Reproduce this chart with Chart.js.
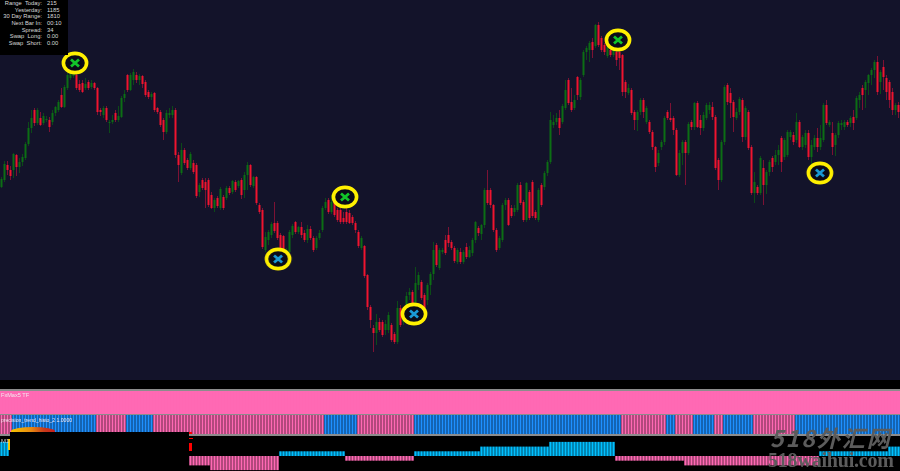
<!DOCTYPE html>
<html>
<head>
<meta charset="utf-8">
<script src="https://cdn.jsdelivr.net/npm/chart.js@4/dist/chart.umd.min.js"></script>
<style>
    html, body { margin: 0; padding: 0; background: #000; }
    #page { position: relative; width: 900px; height: 471px; overflow: hidden; background: #000; font-family: "Liberation Sans", sans-serif; }
    #page canvas { position: absolute; left: 0; display: block; }
    .rule { position: absolute; left: 0; width: 900px; background: #8c8c8c; }
    .label { position: absolute; left: 1px; color: #f4e6ee; white-space: nowrap; }
    #info { position: absolute; left: 0; top: 0; width: 68px; height: 55px; background: #000; color: #d8d8d8; font-size: 5.8px; line-height: 6.7px; padding-top: 0; }
    #info div { position: relative; height: 6.7px; }
    #info span { position: absolute; white-space: pre; }
    #info .k { right: 26px; }
    #info .v { left: 47px; }
    #mask { position: absolute; left: 10px; top: 432px; width: 179px; height: 39px; background: #000; }
    #smear { position: absolute; left: 11px; top: 427px; width: 44px; height: 5px; border-radius: 60% 60% 0 0 / 100% 100% 0 0; background: linear-gradient(90deg, #f5c400, #e88a10 45%, #c83a1a 75%, #c81e1e); }
    .tick { position: absolute; background: #f00; }
    #mark1 { position: absolute; left: 1px; top: 438px; color: #ccc; font-size: 6px; }
    #wm1 { position: absolute; left: 770px; top: 421px; color: #5c5c5c; font-family: "Noto Sans CJK SC", sans-serif; font-style: italic; font-weight: 700; font-size: 23px; line-height: 32px; letter-spacing: 2px; white-space: nowrap; }
    #wm2 { position: absolute; left: 768px; top: 449px; color: #5c5c5c; font-family: "Liberation Serif", serif; font-weight: 700; font-size: 20px; line-height: 23px; letter-spacing: -0.2px; white-space: nowrap; }
</style>
</head>
<body>
<div id="page">
    <canvas id="priceChart" width="900" height="380" style="top:0"></canvas>
    <canvas id="fxMaxChart" width="900" height="23" style="top:391px"></canvas>
    <canvas id="trendChart" width="900" height="19" style="top:415px"></canvas>
    <canvas id="histoChart" width="900" height="35" style="top:436px"></canvas>
    <div class="rule" style="top:389px;height:2px"></div>
    <div class="rule" style="top:414px;height:1px"></div>
    <div class="rule" style="top:434px;height:2px"></div>
    <div class="label" style="top:392px;font-size:5.6px">FxMax5 TF</div>
    <div class="label" style="top:417px;font-size:5.1px">precision_trend_histo_2 1.0000</div>
    <div id="info"></div>
    <div id="smear"></div>
    <div id="mask"></div>
    <div class="tick" style="left:189px;top:432px;width:3px;height:2px"></div>
    <div class="tick" style="left:189px;top:438px;width:4px;height:1px"></div>
    <div class="tick" style="left:189px;top:443px;width:3px;height:8px"></div>
    <div class="tick" style="left:8px;top:439px;width:1.5px;height:11px;background:#f5c400"></div>
    <div id="mark1">M1</div>
    <div id="wm1">518外汇网</div>
    <div id="wm2">518waihui.com</div>
</div>
<script>
const opens = [
    193,200,215,210,210,225,213,218,222,236, 252,270,257,262,257,260,260,258,267,270,
    285,273,292,302,304,305,296,297,292,298, 293,297,292,270,265,272,257,258,267,260,
    263,282,305,290,300,305,300,304,298,288, 283,287,272,268,260,248,265,265,270,225,
    207,230,220,212,217,215,188,200,198,200, 185,172,182,172,183,182,192,188,198,194,
    200,190,205,215,194,203,175,170,130,140, 145,157,157,145,144,128,128,145,158,148,
    153,147,140,151,142,132,142,150,172,180, 168,178,170,170,162,168,167,163,157,148,
    132,134,105,73,52,47,58,58,50,50, 55,46,38,72,58,68,85,88,78,95,
    98,85,80,95,106,135,112,128,140,145, 138,132,118,128,118,133,123,127,140,152,
    146,155,190,190,175,150,132,140,175,180, 172,168,170,195,178,160,188,198,168,160,
    195,193,207,218,255,258,262,258,272,300, 278,272,303,283,305,328,330,338,334,355,
    342,335,324,330,325,328,328,325,298,287, 290,268,260,268,280,258,258,248,233,217,
    233,238,268,262,262,250,205,227,238,227, 258,253,277,260,252,262,270,273,263,220,
    200,238,295,287,278,262,268,280,243,268, 233,187,193,187,212,195,208,222,218,225,
    242,223,225,243,245,240,258,233,235,247, 223,233,242,233,240,275,255,247,235,245,
    255,253,258,257,263,262,280,292,290,297, 305,310,318,298,313,302,298,288,270,275,
];
const closes = [
    201,216,210,204,226,213,218,223,236,252, 262,257,270,255,264,261,253,267,273,278,
    273,293,305,306,306,292,290,288,296,292, 297,292,268,268,272,260,258,260,260,264,
    282,286,290,305,308,300,304,296,285,283, 286,270,268,255,248,267,267,270,225,215,
    230,217,212,226,208,184,195,192,190,175, 172,180,174,191,172,192,187,199,190,199,
    185,205,215,195,203,177,168,133,143,148, 156,149,142,132,128,130,148,154,148,153,
    145,140,151,142,130,142,147,172,178,168, 178,165,160,158,158,158,157,157,150,134,
    142,104,73,60,47,58,50,45,56,65, 40,38,72,55,68,84,88,77,97,105,
    82,72,95,106,130,115,130,130,127,137, 132,119,130,118,128,123,130,140,158,147,
    155,190,177,175,150,130,142,175,180,155, 164,172,195,177,160,197,162,164,162,190,
    175,207,218,260,258,262,252,274,290,277, 270,280,285,300,328,332,337,330,355,335,
    330,328,333,325,332,320,322,288,288,292, 267,260,268,280,268,272,248,233,213,227,
    238,262,262,260,250,205,227,238,227,256, 253,277,253,252,265,275,275,263,212,200,
    238,293,278,277,263,268,281,243,272,232, 187,198,187,222,195,208,218,213,225,230,
    218,240,248,248,238,258,233,243,247,223, 235,242,233,242,275,257,258,233,245,257,
    257,258,255,262,257,282,285,285,298,305, 310,318,288,308,303,288,280,270,275,268,
];
const highs = [
    203,219,219,214,227,226,222,226,238,258, 270,272,272,268,267,264,263,270,274,280,
    292,295,307,308,308,308,300,300,302,300, 300,298,293,272,274,274,260,265,270,274,
    284,290,306,307,311,308,306,305,300,290, 288,288,273,270,262,270,272,274,272,228,
    237,232,222,228,220,217,197,202,202,202, 188,182,184,193,185,194,194,200,200,200,
    202,208,218,216,204,204,177,172,148,150, 158,178,159,147,145,132,150,156,159,154,
    158,150,155,154,144,144,150,174,182,182, 185,180,172,172,168,172,170,165,159,150,
    144,135,106,75,55,66,62,60,60,68, 57,48,79,75,70,88,92,90,113,108,
    100,87,97,108,138,137,132,132,145,153, 140,134,132,132,130,137,134,142,159,154,
    156,192,210,192,176,152,144,177,182,182, 175,175,197,198,180,198,190,200,170,192,
    197,209,220,268,265,267,270,276,300,302, 292,285,304,302,330,334,339,342,356,358,
    344,337,335,332,334,330,332,326,300,296, 292,270,270,282,282,274,260,250,234,230,
    240,264,270,277,264,252,230,240,240,258, 260,278,279,265,268,277,278,278,265,222,
    240,295,297,292,280,272,283,282,274,270, 235,208,195,224,220,210,220,224,230,235,
    244,242,250,250,248,267,260,245,250,250, 240,245,252,255,277,280,260,258,247,259,
    260,260,260,264,270,284,288,295,300,306, 312,320,324,310,320,305,300,292,277,278,
];
const lows = [
    192,198,205,200,202,204,207,214,220,234, 247,254,255,254,255,258,248,255,264,268,
    272,272,290,300,302,290,288,287,290,290, 291,290,265,264,262,258,247,256,258,258,
    262,278,288,289,295,297,295,292,283,281, 280,268,266,253,240,246,262,262,222,198,
    205,215,210,210,206,182,183,190,172,173, 171,168,172,170,170,180,185,186,188,192,
    181,182,190,193,192,175,166,131,128,135, 142,147,140,130,125,127,127,142,146,146,
    142,138,137,140,128,130,140,148,170,166, 166,163,158,156,156,156,156,155,147,132,
    130,102,70,52,28,35,48,43,45,47, 38,36,36,53,55,65,80,75,76,90,
    80,70,75,85,100,113,110,126,125,133, 130,117,116,116,116,121,122,124,137,144,
    140,152,175,172,148,128,130,138,170,154, 162,164,168,175,158,158,160,162,160,158,
    173,190,204,216,252,255,245,256,270,275, 268,270,280,280,303,320,318,322,332,333,
    328,325,322,323,323,314,310,284,282,285, 265,250,249,265,262,256,246,230,208,214,
    230,235,260,258,245,204,203,215,195,225, 250,250,252,245,249,260,266,260,210,190,
    198,235,275,262,248,260,265,238,240,230, 185,177,185,185,175,186,204,208,215,215,
    208,220,223,240,235,237,232,230,232,220, 215,230,228,230,238,255,253,225,224,242,
    250,250,253,253,250,260,272,270,272,285, 295,302,285,286,290,280,272,265,265,262,
];

// signal circles, bar position and price
const sellBars = [24.5, 114.5, 205.5];
const sellPrices = [317, 183, 340];
const buyBars = [92.2, 137.5, 272.8];
const buyPrices = [121, 66, 207];

// trend panel: direction and how many bars it lasts
const trendDirections = [-1,1,-1,1,-1,1,-1,1,-1,1,-1,1,-1,1,-1,1];
const trendLengths = [4,28,10,9,57,11,19,69,15,3,6,7,3,10,14,35];

// lower histogram: level and how many bars it lasts, second run sits behind the black box
const histoLevels = [3,0,-2,-3,1,-1,1,2,3,-1,-2,1,2];
const histoLengths = [3,60,7,23,22,23,22,23,22,23,45,23,4];

const infoLabels = ['Range  Today:', 'Yesterday:', '30 Day Range:', 'Next Bar In:', 'Spread:', 'Swap  Long:', 'Swap  Short:'];
const infoValues = ['215', '1185', '1810', '00:10', '34', '0.00', '0.00'];

function expandRuns(values, lengths) {
    const out = [];
    values.forEach((value, i) => {
        for (let n = 0; n < lengths[i]; n++) {
            out.push(value);
        }
    });
    return out;
}

const barLabels = opens.map((_, i) => i);

function hiddenScales(yMin, yMax) {
    return {
        x: { type: 'category', offset: true, display: false, grid: { display: false } },
        y: { type: 'linear', min: yMin, max: yMax, display: false, grid: { display: false } },
    };
}

function baseOptions(yMin, yMax) {
    return {
        responsive: false,
        animation: false,
        events: [],
        layout: { padding: 0, autoPadding: false },
        plugins: { legend: { display: false }, tooltip: { enabled: false } },
        scales: hiddenScales(yMin, yMax),
    };
}

function signalMarker(color) {
    const c = document.createElement('canvas');
    c.width = 30;
    c.height = 26;
    const ctx = c.getContext('2d');
    ctx.beginPath();
    ctx.ellipse(15, 13, 11.6, 9.6, 0, 0, Math.PI * 2);
    ctx.fillStyle = '#0b0b18';
    ctx.fill();
    ctx.lineWidth = 3.6;
    ctx.strokeStyle = '#fff000';
    ctx.stroke();
    ctx.strokeStyle = color;
    ctx.lineWidth = 2.8;
    ctx.beginPath();
    ctx.moveTo(11, 9.5);
    ctx.lineTo(19, 16.5);
    ctx.moveTo(19, 9.5);
    ctx.lineTo(11, 16.5);
    ctx.stroke();
    return c;
}

function signalDataset(bars, prices, color) {
    return {
        type: 'scatter',
        xAxisID: 'xSignal',
        data: bars.map((bar, i) => ({ x: bar, y: prices[i] })),
        pointStyle: signalMarker(color),
        pointRadius: 14,
        order: 0,
    };
}

const priceOptions = baseOptions(0, 380);
priceOptions.scales.xSignal = { type: 'linear', min: -0.5, max: 299.5, display: false };

new Chart(document.getElementById('priceChart'), {
    data: {
        labels: barLabels,
        datasets: [
            {
                type: 'bar',
                data: lows.map((low, i) => [low, highs[i]]),
                backgroundColor: closes.map((close, i) => (close >= opens[i] ? '#0c4a18' : '#7c1234')),
                barThickness: 1,
                inflateAmount: 0,
                grouped: false,
                order: 2,
            },
            {
                type: 'bar',
                data: opens.map((open, i) => [open, closes[i]]),
                backgroundColor: closes.map((close, i) => (close >= opens[i] ? '#0c6e14' : '#f0142f')),
                barThickness: 2,
                inflateAmount: 0,
                grouped: false,
                order: 1,
            },
            signalDataset(sellBars, sellPrices, '#12c52a'),
            signalDataset(buyBars, buyPrices, '#1a9ad6'),
        ],
    },
    options: priceOptions,
    plugins: [{
        id: 'panelBackground',
        beforeDraw(chart) {
            chart.ctx.fillStyle = '#13132a';
            chart.ctx.fillRect(0, 0, chart.width, chart.height);
        },
    }],
});

new Chart(document.getElementById('fxMaxChart'), {
    type: 'bar',
    data: {
        labels: barLabels,
        datasets: [{
            data: expandRuns([1], [300]),
            backgroundColor: '#ff69b4',
            barPercentage: 1,
            categoryPercentage: 1,
        }],
    },
    options: baseOptions(0, 1),
});

const trendValues = expandRuns(trendDirections, trendLengths);

new Chart(document.getElementById('trendChart'), {
    type: 'bar',
    data: {
        labels: barLabels,
        datasets: [{
            data: trendValues.map(Math.abs),
            backgroundColor: trendValues.map((v) => (v > 0 ? '#1e90ff' : '#ff69b4')),
            barThickness: 2.4,
            inflateAmount: 0,
        }],
    },
    options: baseOptions(0, 1),
});

const histoValues = expandRuns(histoLevels, histoLengths);

new Chart(document.getElementById('histoChart'), {
    type: 'bar',
    data: {
        labels: barLabels,
        datasets: [{
            data: histoValues,
            backgroundColor: histoValues.map((v) => (v > 0 ? '#00bfff' : '#ff69b4')),
            barThickness: 2.4,
            inflateAmount: 0,
        }],
    },
    options: baseOptions(-3.19, 4.25),
});

const info = document.getElementById('info');
infoLabels.forEach((label, i) => {
    const row = document.createElement('div');
    const k = document.createElement('span');
    const v = document.createElement('span');
    k.className = 'k';
    v.className = 'v';
    k.textContent = label;
    v.textContent = infoValues[i];
    row.appendChild(k);
    row.appendChild(v);
    info.appendChild(row);
});
</script>
</body>
</html>
